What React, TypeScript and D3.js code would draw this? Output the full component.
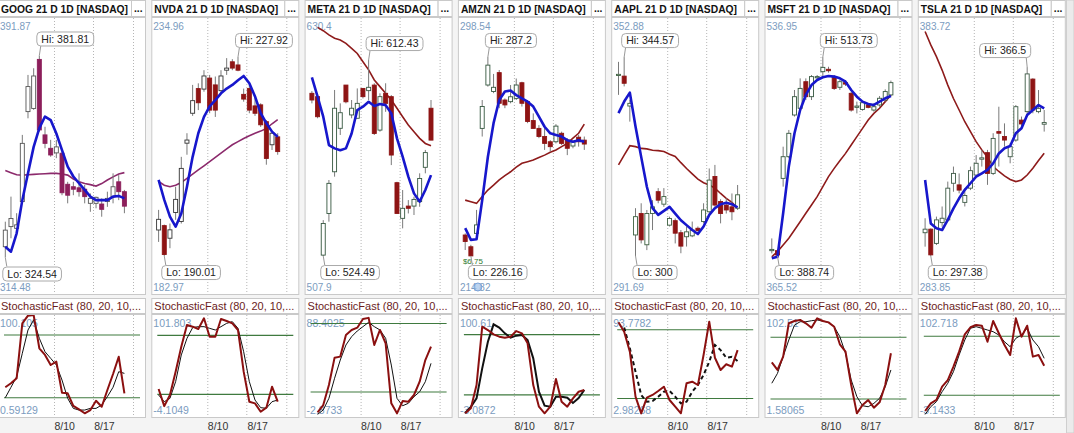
import React, { useRef, useEffect } from 'react';
import * as d3 from 'd3';

// tickers and axis texts
const TICKERS = ['GOOG', 'NVDA', 'META', 'AMZN', 'AAPL', 'MSFT', 'TSLA'];
const DATES = [
  '2025-08-01', '2025-08-02', '2025-08-03', '2025-08-04', '2025-08-05', '2025-08-06',
  '2025-08-07', '2025-08-08', '2025-08-09', '2025-08-10', '2025-08-11', '2025-08-12',
  '2025-08-13', '2025-08-14', '2025-08-15', '2025-08-16', '2025-08-17', '2025-08-18',
  '2025-08-19', '2025-08-20', '2025-08-21', '2025-08-22',
];
const GRID_DATES = ['2025-08-10', '2025-08-17', '2025-08-24'];
const TICK_LABELS = ['8/10', '8/17'];

// price axis extremes shown in the corners
const PRICE_TOP = [391.87, 234.96, 630.4, 298.54, 352.88, 536.95, 383.72];
const PRICE_BOTTOM = [314.48, 182.97, 507.9, 214.82, 291.69, 365.52, 283.85];
const STOCH_TOP = [100.105, 101.803, 88.4025, 100.61, 93.7782, 102.51, 102.718];
const STOCH_BOTTOM = [0.59129, -4.1049, -2.8733, -3.0872, 2.98268, 1.58065, -3.1433];

// [open, high, low, close]
const GOOG_OHLC = [
  [327.6, 334.7, 324.54, 332.3], [333.3, 341.8, 330.0, 335.6], [332.8, 337.1, 331.4, 333.8],
  [340.4, 359.3, 339.9, 356.9], [365.9, 376.3, 364.0, 373.0], [366.8, 378.2, 366.4, 376.0],
  [380.7, 381.81, 360.2, 360.7], [359.3, 361.6, 355.5, 356.9], [355.5, 357.9, 353.1, 353.6],
  [354.2, 357.9, 352.7, 355.9], [354.1, 354.5, 342.2, 342.9], [345.3, 346.0, 339.9, 342.2],
  [344.6, 346.0, 342.2, 343.9], [344.3, 348.4, 341.8, 343.2], [343.9, 345.1, 339.9, 341.8],
  [339.9, 342.7, 337.5, 341.3], [339.9, 341.8, 338.5, 341.6], [339.7, 341.3, 336.1, 338.2],
  [340.4, 343.2, 338.9, 341.3], [341.8, 348.4, 339.9, 344.6], [346.0, 347.9, 340.8, 343.2],
  [343.2, 343.7, 337.1, 339.1],
];
const GOOG_MA_FAST = [327.6, 326.2, 331.4, 340.8, 348.4, 355.9, 361.2, 364.5, 363.5, 359.7, 355.0, 350.3, 347.5, 345.6, 343.7, 341.8, 340.8, 340.8, 340.8, 341.8, 342.0, 341.3];
const GOOG_MA_SLOW = [349.2, 348.6, 348.0, 347.9, 348.0, 348.1, 348.2, 348.3, 348.4, 348.4, 348.2, 347.9, 346.8, 346.0, 345.5, 345.2, 344.8, 345.5, 346.5, 347.4, 348.2, 348.6];
const GOOG_K = [30.0, 33.8, 38.6, 91.2, 98.5, 99.1, 67.3, 60.9, 51.3, 54.5, 24.8, 24.2, 12.1, 8.9, 5.1, 8.2, 17.1, 11.4, 27.4, 42.7, 59.2, 24.2];
const GOOG_D = [20.0, 30.0, 40.1, 62.5, 84.8, 94.4, 76.8, 64.0, 57.7, 51.3, 36.9, 19.4, 9.8, 8.2, 8.2, 9.8, 9.8, 13.0, 21.0, 30.0, 44.9, 43.3];

const NVDA_OHLC = [
  [194.97, 198.8, 192.7, 197.0], [195.8, 196.0, 190.01, 190.3], [193.4, 196.2, 191.5, 195.0],
  [198.3, 203.2, 196.9, 200.8], [196.6, 208.9, 196.2, 206.7], [211.5, 213.4, 209.3, 212.1],
  [217.2, 222.6, 216.7, 219.6], [221.9, 222.9, 217.8, 219.2], [221.8, 225.4, 221.3, 224.3],
  [223.9, 224.5, 217.2, 217.8], [222.6, 224.2, 216.5, 217.8], [221.5, 225.4, 221.3, 224.3],
  [225.4, 227.7, 224.5, 225.8], [227.0, 227.5, 225.4, 225.8], [226.4, 227.92, 225.2, 225.4],
  [220.8, 221.9, 219.4, 219.9], [221.9, 222.6, 217.2, 217.8], [218.6, 220.4, 216.7, 217.2],
  [218.8, 219.1, 214.6, 215.0], [215.6, 215.9, 207.4, 208.6], [211.2, 213.7, 210.2, 213.4],
  [212.7, 213.4, 209.3, 209.9],
];
const NVDA_MA_FAST = [204.5, 200.7, 197.5, 195.6, 198.1, 203.2, 208.9, 213.4, 216.5, 218.5, 219.7, 221.0, 221.9, 222.6, 223.5, 224.3, 222.9, 220.4, 217.2, 215.3, 213.7, 212.7];
const NVDA_MA_SLOW = [204.2, 203.5, 203.2, 203.5, 204.0, 204.8, 205.6, 206.4, 207.2, 208.0, 208.8, 209.6, 210.4, 211.2, 211.8, 212.4, 212.9, 213.4, 213.8, 214.3, 215.2, 216.0];
const NVDA_K = [25.4, 8.0, 19.3, 43.1, 68.5, 90.6, 88.9, 86.5, 97.4, 78.7, 78.7, 96.7, 94.7, 92.3, 85.5, 43.1, 12.5, 10.8, 2.3, 6.4, 27.8, 12.5];
const NVDA_D = [19.3, 12.5, 15.9, 32.9, 60.1, 77.0, 87.9, 88.9, 88.9, 87.2, 85.5, 88.9, 92.3, 94.0, 87.2, 63.4, 32.9, 14.2, 6.4, 5.8, 12.5, 14.2];

const META_OHLC = [
  [597.5, 598.5, 593.0, 594.5], [596.0, 596.7, 586.3, 587.0], [524.9, 540.6, 524.49, 539.1],
  [543.6, 558.6, 539.9, 557.1], [562.3, 599.0, 560.1, 590.8], [581.8, 593.0, 578.8, 588.8],
  [601.2, 601.2, 593.0, 593.7], [587.8, 594.5, 586.3, 590.8], [586.3, 599.7, 586.3, 593.0],
  [599.7, 599.7, 595.2, 596.0], [598.7, 612.43, 594.5, 600.2], [601.2, 602.0, 578.8, 579.5],
  [581.0, 597.5, 580.3, 596.0], [597.5, 602.0, 589.2, 593.0], [596.0, 596.7, 565.3, 569.8],
  [557.4, 557.8, 543.6, 543.6], [541.4, 554.1, 536.9, 545.9], [546.9, 549.6, 543.6, 545.9],
  [546.9, 551.1, 542.9, 549.9], [548.9, 561.6, 546.6, 559.3], [564.3, 572.1, 561.6, 570.9],
  [590.8, 594.5, 576.5, 576.5],
];
const META_MA_FAST = [604.7, 596.0, 587.0, 574.3, 572.8, 572.0, 572.8, 579.5, 590.0, 591.5, 593.7, 591.8, 592.7, 592.2, 588.5, 577.3, 569.1, 560.1, 552.6, 548.9, 554.1, 560.8];
const META_MA_SLOW = [NaN, 627.1, 625.6, 623.7, 622.2, 621.4, 619.9, 617.7, 615.4, 611.7, 608.0, 603.5, 600.5, 597.5, 594.5, 590.8, 587.0, 583.3, 580.3, 577.3, 575.0, 574.0];
const META_K = [NaN, 2.1, 8.5, 26.1, 50.1, 51.0, 70.0, 74.4, 76.4, 84.0, 85.0, 61.2, 74.4, 62.7, 10.0, 1.2, 12.0, 11.4, 17.3, 29.0, 48.0, 59.7];
const META_D = [NaN, 0.3, 4.2, 14.4, 32.0, 48.0, 61.2, 68.5, 73.5, 77.3, 81.1, 77.3, 74.4, 67.1, 43.6, 14.4, 7.9, 10.0, 15.8, 20.2, 29.0, 45.1];

const AMZN_OHLC = [
  [232.6, 233.1, 228.0, 230.6], [229.0, 229.6, 226.16, 226.2], [233.1, 240.3, 232.1, 235.7],
  [265.3, 274.0, 262.8, 272.0], [278.6, 287.2, 278.1, 284.7], [276.6, 282.0, 276.1, 277.9],
  [282.4, 283.2, 271.5, 273.0], [274.0, 274.5, 271.5, 272.5], [273.5, 278.6, 273.0, 275.0],
  [274.5, 280.6, 274.0, 278.6], [279.3, 279.6, 272.0, 273.0], [273.5, 274.0, 266.9, 267.4],
  [267.7, 269.9, 265.3, 265.3], [265.3, 266.3, 262.3, 262.8], [262.8, 265.8, 258.7, 260.7],
  [261.2, 261.7, 258.2, 259.7], [261.2, 266.6, 260.7, 266.0], [263.8, 264.3, 260.2, 260.7],
  [261.7, 262.3, 257.1, 259.2], [259.9, 261.7, 259.2, 261.2], [262.6, 263.3, 259.7, 261.2],
  [261.7, 262.8, 258.7, 260.5],
];
const AMZN_MA_FAST = [234.7, 231.1, 231.3, 243.3, 256.6, 266.9, 274.0, 276.6, 276.9, 275.5, 274.5, 273.5, 272.0, 268.9, 265.8, 263.8, 263.3, 262.8, 261.7, 261.2, 261.7, 261.2];
const AMZN_MA_SLOW = [243.3, 242.8, 242.3, 244.4, 246.4, 247.9, 249.5, 250.8, 252.0, 253.4, 254.6, 255.1, 255.6, 256.4, 257.1, 258.0, 258.7, 259.7, 260.7, 262.3, 263.8, 266.6];
const AMZN_K = [1.6, 6.6, 29.8, 88.0, 84.6, 80.3, 78.0, 77.0, 78.0, 83.6, 81.3, 71.4, 29.8, 8.2, 1.6, 8.2, 35.8, 13.2, 8.2, 16.5, 23.1, 24.8];
const AMZN_D = [2.0, 8.0, 16.5, 46.4, 73.0, 90.3, 87.0, 81.3, 77.0, 79.0, 79.7, 74.7, 56.4, 23.1, 9.2, 8.2, 18.2, 18.2, 17.2, 11.9, 16.8, 24.8];

const AAPL_OHLC = [
  [340.6, 343.5, 336.1, 340.7], [340.3, 344.57, 338.0, 338.7], [333.6, 335.0, 330.1, 334.2],
  [304.7, 310.7, 300.0, 308.8], [309.5, 311.8, 302.8, 303.6], [302.5, 310.3, 301.3, 309.5],
  [309.5, 312.5, 305.8, 311.0], [314.4, 315.2, 311.8, 312.5], [311.6, 315.2, 311.0, 313.3],
  [306.9, 308.8, 306.6, 308.4], [307.9, 308.4, 302.8, 305.1], [305.2, 305.8, 300.6, 302.2],
  [304.3, 306.6, 302.1, 305.4], [304.5, 307.7, 304.2, 305.8], [306.2, 306.6, 305.4, 305.7],
  [307.7, 311.8, 307.3, 310.3], [309.9, 319.6, 309.5, 317.0], [317.8, 320.4, 311.0, 311.4],
  [312.2, 312.7, 307.3, 309.5], [311.4, 312.9, 309.5, 310.3], [311.0, 314.0, 308.0, 309.9],
  [310.7, 315.9, 310.3, 313.7],
];
const AAPL_MA_FAST = [332.0, 334.6, 336.6, 329.0, 322.2, 315.5, 310.7, 309.2, 310.1, 311.0, 309.5, 308.0, 306.9, 305.8, 304.9, 306.6, 309.2, 310.7, 311.6, 311.9, 311.6, 310.9];
const AAPL_MA_SLOW = [320.4, 322.6, 324.7, 324.5, 324.1, 324.0, 323.7, 323.6, 323.4, 322.8, 322.3, 320.9, 319.6, 318.4, 317.2, 316.4, 315.9, 315.2, 314.0, 312.9, 312.0, 310.7];
const AAPL_K = [86.5, 78.3, 60.9, 21.6, 7.0, 20.7, 23.1, 26.6, 30.3, 18.7, 12.9, 7.1, 33.3, 34.7, 31.8, 58.0, 87.1, 55.6, 44.9, 49.9, 47.8, 62.3];
const AAPL_D = [NaN, 82.0, 63.8, 43.4, 23.1, 17.2, 17.8, 21.6, 25.9, 26.6, 21.6, 15.8, 17.2, 25.9, 31.8, 40.5, 52.1, 66.7, 62.3, 55.6, 56.5, 52.7];

const MSFT_OHLC = [
  [392.1, 399.8, 390.4, 392.9], [392.1, 392.9, 388.74, 389.4], [437.5, 457.4, 432.3, 451.1],
  [451.1, 467.9, 450.1, 465.8], [477.3, 493.0, 476.3, 488.8], [481.5, 500.3, 480.4, 494.0],
  [498.2, 500.3, 486.7, 488.8], [488.8, 502.4, 486.7, 501.4], [501.0, 502.4, 499.3, 501.4],
  [504.5, 513.73, 501.4, 507.2], [506.0, 507.6, 503.9, 505.1], [501.4, 502.4, 493.0, 494.0],
  [494.7, 499.3, 493.0, 498.2], [497.6, 499.3, 495.5, 496.7], [490.9, 491.9, 479.4, 480.4],
  [482.1, 485.7, 478.3, 482.9], [480.8, 485.7, 480.0, 485.0], [483.6, 484.6, 481.5, 482.1],
  [480.4, 484.6, 479.4, 482.5], [483.6, 489.2, 482.5, 487.8], [486.7, 493.4, 485.7, 492.0],
  [489.9, 498.9, 488.8, 497.6],
];
const MSFT_MA_FAST = [387.3, 388.3, 415.6, 444.9, 465.8, 480.4, 489.9, 496.1, 499.3, 501.0, 501.8, 501.4, 500.3, 498.2, 493.0, 488.8, 485.7, 484.2, 483.6, 485.7, 487.8, 489.2];
const MSFT_MA_SLOW = [388.3, 391.5, 395.7, 399.9, 405.1, 410.3, 415.6, 420.8, 426.0, 432.3, 438.6, 443.8, 448.6, 453.2, 458.5, 463.7, 468.9, 474.2, 478.3, 481.5, 485.7, 489.9];
const MSFT_K = [55.6, 48.2, 61.1, 93.5, 95.7, 96.7, 93.5, 89.2, 98.3, 95.7, 94.4, 90.2, 73.1, 65.9, 33.6, 6.1, 14.2, 19.0, 11.6, 16.8, 33.6, 64.4];
const MSFT_D = [35.3, 44.9, 61.1, 77.3, 91.8, 95.0, 95.0, 96.0, 96.7, 95.7, 94.4, 90.2, 80.5, 64.4, 38.5, 22.3, 13.5, 12.5, 15.8, 20.7, 31.9, 48.2];

const TSLA_OHLC = [
  [305.9, 311.2, 300.8, 307.2], [307.2, 307.5, 297.38, 297.8], [302.0, 311.8, 301.4, 310.6],
  [309.6, 315.5, 308.1, 311.2], [310.6, 324.6, 310.0, 322.2], [324.0, 330.1, 320.9, 327.6],
  [323.4, 327.6, 320.3, 321.5], [317.0, 322.2, 315.5, 319.5], [322.2, 330.1, 321.5, 328.6],
  [327.0, 334.3, 326.4, 331.3], [332.8, 336.2, 330.1, 333.3], [335.2, 336.2, 323.4, 327.6],
  [327.6, 342.3, 327.0, 340.4], [342.9, 352.0, 330.1, 342.3], [341.1, 345.9, 337.4, 339.8],
  [333.7, 338.6, 331.3, 337.4], [339.8, 352.6, 339.2, 352.0], [347.1, 348.4, 344.7, 345.7],
  [350.2, 366.5, 348.4, 364.0], [362.1, 362.4, 349.6, 350.8], [350.2, 358.1, 349.6, 351.4],
  [345.6, 350.8, 342.9, 346.2],
];
const TSLA_MA_FAST = [325.2, 309.3, 307.5, 306.9, 310.6, 314.8, 318.5, 321.6, 324.0, 326.4, 327.6, 328.9, 331.3, 334.9, 336.8, 337.6, 342.3, 344.1, 349.0, 350.8, 352.6, 351.4];
const TSLA_MA_SLOW = [379.5, 374.6, 370.3, 365.4, 359.9, 355.0, 350.8, 346.5, 342.9, 339.2, 336.2, 333.5, 330.1, 328.3, 326.7, 325.4, 324.6, 325.2, 327.0, 329.5, 332.3, 335.0];
const TSLA_K = [4.0, 11.8, 15.2, 28.7, 35.5, 49.1, 64.4, 82.0, 89.2, 91.5, 90.8, 74.5, 95.6, 83.1, 71.2, 61.0, 98.3, 79.6, 90.8, 59.3, 61.0, 50.1];
const TSLA_D = [0.5, 8.4, 13.5, 23.6, 32.2, 44.0, 61.0, 76.3, 88.2, 89.8, 88.2, 86.4, 84.7, 81.3, 74.5, 69.4, 78.0, 81.3, 88.2, 76.3, 69.4, 57.6];

const OHLC = [GOOG_OHLC, NVDA_OHLC, META_OHLC, AMZN_OHLC, AAPL_OHLC, MSFT_OHLC, TSLA_OHLC];
const MA_FAST = [GOOG_MA_FAST, NVDA_MA_FAST, META_MA_FAST, AMZN_MA_FAST, AAPL_MA_FAST, MSFT_MA_FAST, TSLA_MA_FAST];
const MA_SLOW = [GOOG_MA_SLOW, NVDA_MA_SLOW, META_MA_SLOW, AMZN_MA_SLOW, AAPL_MA_SLOW, MSFT_MA_SLOW, TSLA_MA_SLOW];
const STOCH_K = [GOOG_K, NVDA_K, META_K, AMZN_K, AAPL_K, MSFT_K, TSLA_K];
const STOCH_D = [GOOG_D, NVDA_D, META_D, AMZN_D, AAPL_D, MSFT_D, TSLA_D];

// per panel styling
const SLOW_COLORS = ['#8c2a6c', '#8c2a6c', '#8e1b1b', '#8e1b1b', '#8e1b1b', '#8e1b1b', '#8e1b1b'];
const DOWN_COLORS = ['#8c1f5b', '#8e1414', '#8e1414', '#8e1414', '#8e1414', '#8e1414', '#8e1414'];
const UP_STROKES = ['#555', '#333', '#35573f', '#35573f', '#3d6040', '#35573f', '#3d5a45'];
const D_WIDTHS = [1, 1, 1, 2, 2, 1, 1];
const D_DASHES = ['none', 'none', 'none', 'none', '4,3', 'none', 'none'];

const W = 1074;
const H = 433;
const PANEL_X0 = -2;
const PANEL_STEP = 153.3;
const PANEL_W = 148;
const FONT = '"Liberation Sans", Arial, sans-serif';
const LABEL_BLUE = '#7b9cc0';

const parseDay = d3.timeParse('%Y-%m-%d');

const App: React.FC = () => {
  const ref = useRef<SVGSVGElement>(null);

  useEffect(() => {
    document.body.style.margin = '0';
    if (!ref.current) return;
    const svg = d3.select(ref.current);
    svg.selectAll('*').remove();

    svg.append('rect').attr('width', W).attr('height', H).attr('fill', '#f4f4f4');

    const days = DATES.map(s => d3.timeHour.offset(parseDay(s) as Date, 12));
    const gridDays = GRID_DATES.map(s => parseDay(s) as Date);

    const x = d3.scaleTime()
      .domain([days[0], days[days.length - 1]])
      .range([7.3, 126.4]);

    const defs = svg.append('defs');

    TICKERS.forEach((ticker, p) => {
      const g = svg.append('g').attr('transform', `translate(${PANEL_X0 + p * PANEL_STEP},0)`);
      const ohlc = OHLC[p];

      const y = d3.scaleLinear().domain([PRICE_BOTTOM[p], PRICE_TOP[p]]).range([293, 20]);
      const ys = d3.scaleLinear().domain([STOCH_BOTTOM[p], STOCH_TOP[p]]).range([418, 314]);

      // clips
      defs.append('clipPath').attr('id', `pc${p}`)
        .append('rect').attr('x', 1).attr('y', 18).attr('width', PANEL_W - 2).attr('height', 276);
      defs.append('clipPath').attr('id', `sc${p}`)
        .append('rect').attr('x', 1).attr('y', 315).attr('width', PANEL_W - 2).attr('height', 102);

      // title bar
      g.append('rect').attr('x', 0.5).attr('y', 0.5).attr('width', 133).attr('height', 16)
        .attr('fill', '#fff').attr('stroke', '#c9c9c9');
      g.append('rect').attr('x', 133.5).attr('y', 0.5).attr('width', PANEL_W - 134).attr('height', 16)
        .attr('fill', '#fff').attr('stroke', '#c9c9c9');
      g.append('text').attr('x', 3).attr('y', 12.5)
        .attr('font-family', FONT).attr('font-size', 10.3).attr('font-weight', 'bold').attr('fill', '#111')
        .text(`${ticker} 21 D 1D [NASDAQ]`);
      g.append('text').attr('x', 136).attr('y', 12)
        .attr('font-family', FONT).attr('font-size', 10.3).attr('font-weight', 'bold').attr('fill', '#111')
        .text('...');

      // price box
      g.append('rect').attr('x', 0.5).attr('y', 17.5).attr('width', PANEL_W - 1).attr('height', 277)
        .attr('fill', '#fff').attr('stroke', '#c9c9c9');
      // stochastic title and box
      g.append('rect').attr('x', 0.5).attr('y', 298.5).attr('width', PANEL_W - 1).attr('height', 15)
        .attr('fill', '#fff').attr('stroke', '#c9c9c9');
      g.append('text').attr('x', 3).attr('y', 310)
        .attr('font-family', FONT).attr('font-size', 11).attr('fill', '#6b1c1c')
        .text('StochasticFast (80, 20, 10,...');
      g.append('rect').attr('x', 0.5).attr('y', 314.5).attr('width', PANEL_W - 1).attr('height', 103)
        .attr('fill', '#fff').attr('stroke', '#c9c9c9');

      // vertical dotted grid
      gridDays.forEach(d => {
        const gx = Math.round(x(d)) + 0.5;
        [[18, 294], [315, 417]].forEach(([a, b]) => {
          g.append('line').attr('x1', gx).attr('x2', gx).attr('y1', a).attr('y2', b)
            .attr('stroke', '#b5b5b5').attr('stroke-dasharray', '1,2');
        });
      });

      // x tick labels
      TICK_LABELS.forEach((t, i) => {
        g.append('text').attr('x', x(gridDays[i]) + 1).attr('y', 429.5)
          .attr('font-family', FONT).attr('font-size', 10.5).attr('fill', '#333').text(t);
      });

      // corner price labels
      g.append('text').attr('x', 2).attr('y', 29.5).attr('font-family', FONT).attr('font-size', 10)
        .attr('fill', LABEL_BLUE).text(String(PRICE_TOP[p]));
      g.append('text').attr('x', 2).attr('y', 290.5).attr('font-family', FONT).attr('font-size', 10)
        .attr('fill', LABEL_BLUE).text(String(PRICE_BOTTOM[p]));

      const pg = g.append('g').attr('clip-path', `url(#pc${p})`);

      // slow moving average
      const line = d3.line<number>()
        .defined(v => !Number.isNaN(v))
        .x((_, i) => x(days[i]))
        .y(v => y(v));
      pg.append('path').datum(MA_SLOW[p]).attr('d', line)
        .attr('fill', 'none').attr('stroke', SLOW_COLORS[p]).attr('stroke-width', 1.6);

      // candles
      ohlc.forEach((c, i) => {
        const [o, h, l, cl] = c;
        const cx = x(days[i]);
        const up = cl >= o;
        pg.append('line').attr('x1', cx).attr('x2', cx).attr('y1', y(h)).attr('y2', y(l))
          .attr('stroke', '#7a7a7a').attr('stroke-width', 1);
        const top = y(Math.max(o, cl));
        const bh = Math.max(1.2, y(Math.min(o, cl)) - top);
        pg.append('rect').attr('x', cx - 2).attr('y', top).attr('width', 4).attr('height', bh)
          .attr('fill', up ? '#fff' : DOWN_COLORS[p])
          .attr('stroke', up ? UP_STROKES[p] : DOWN_COLORS[p]).attr('stroke-width', 0.9);
      });

      // fast moving average
      pg.append('path').datum(MA_FAST[p]).attr('d', line)
        .attr('fill', 'none').attr('stroke', '#1717cc').attr('stroke-width', 2.6)
        .attr('stroke-linejoin', 'round');

      // AMZN dividend marker
      if (ticker === 'AMZN') {
        g.append('text').attr('x', 5).attr('y', 264).attr('font-family', FONT).attr('font-size', 8)
          .attr('fill', '#2f7a2f').text('$6.75');
        g.append('circle').attr('cx', 20).attr('cy', 287).attr('r', 4)
          .attr('fill', '#9fc0e8').attr('fill-opacity', 0.7).attr('stroke', '#7aa2d8');
      }

      // hi / lo callouts
      const hiIdx = d3.maxIndex(ohlc, c => c[1]);
      const loIdx = d3.minIndex(ohlc, c => c[2]);
      const callout = (idx: number, isHi: boolean) => {
        const v = isHi ? ohlc[idx][1] : ohlc[idx][2];
        const cx = x(days[idx]);
        const cy = y(v);
        const cg = g.append('g');
        const t = cg.append('text').attr('font-family', FONT).attr('font-size', 10.5).attr('fill', '#222')
          .text(`${isHi ? 'Hi' : 'Lo'}: ${v}`);
        const tw = (t.node() as SVGTextElement).getComputedTextLength();
        const bw = tw + 9;
        const bh = 14;
        let bx = cx - 3;
        if (bx + bw > PANEL_W - 5) bx = cx + 3 - bw;
        bx = Math.max(2, bx);
        const by = isHi ? cy - 10 - bh : cy + 9;
        cg.insert('line', 'text').attr('x1', cx).attr('y1', cy)
          .attr('x2', Math.max(bx + 4, Math.min(cx + 1.5, bx + bw - 4))).attr('y2', isHi ? by + bh : by)
          .attr('stroke', '#999');
        cg.insert('rect', 'text').attr('x', bx + 0.5).attr('y', by + 0.5).attr('width', bw).attr('height', bh)
          .attr('rx', 4).attr('fill', '#fff').attr('stroke', '#aaa');
        t.attr('x', bx + 5).attr('y', by + bh / 2 + 4.2);
      };
      callout(hiIdx, true);
      callout(loIdx, false);

      // stochastic panel
      g.append('text').attr('x', 2).attr('y', 326.5).attr('font-family', FONT).attr('font-size', 10.5)
        .attr('fill', LABEL_BLUE).text(String(STOCH_TOP[p]));
      g.append('text').attr('x', 2).attr('y', 413.5).attr('font-family', FONT).attr('font-size', 10.5)
        .attr('fill', LABEL_BLUE).text(String(STOCH_BOTTOM[p]));

      const sg = g.append('g').attr('clip-path', `url(#sc${p})`);
      [80, 20].forEach(level => {
        sg.append('line').attr('x1', 6).attr('x2', 142).attr('y1', ys(level)).attr('y2', ys(level))
          .attr('stroke', '#3f7a3f').attr('stroke-width', 1.1);
      });
      const sline = d3.line<number>()
        .defined(v => !Number.isNaN(v))
        .x((_, i) => x(days[i]))
        .y(v => ys(v));
      sg.append('path').datum(STOCH_D[p]).attr('d', sline)
        .attr('fill', 'none').attr('stroke', '#111').attr('stroke-width', D_WIDTHS[p])
        .attr('stroke-dasharray', D_DASHES[p]);
      sg.append('path').datum(STOCH_K[p]).attr('d', sline)
        .attr('fill', 'none').attr('stroke', '#8b1010').attr('stroke-width', 2)
        .attr('stroke-linejoin', 'round');
    });

    // scrollbar on the right edge
    svg.append('rect').attr('x', 1066.5).attr('y', 0).attr('width', 7.5).attr('height', H)
      .attr('fill', '#ebebeb').attr('stroke', '#cfcfcf');
  }, []);

  return (
    <svg
      ref={ref}
      width={W}
      height={H}
      style={{ display: 'block', position: 'absolute', left: 0, top: 0 }}
    />
  );
};

export default App;
